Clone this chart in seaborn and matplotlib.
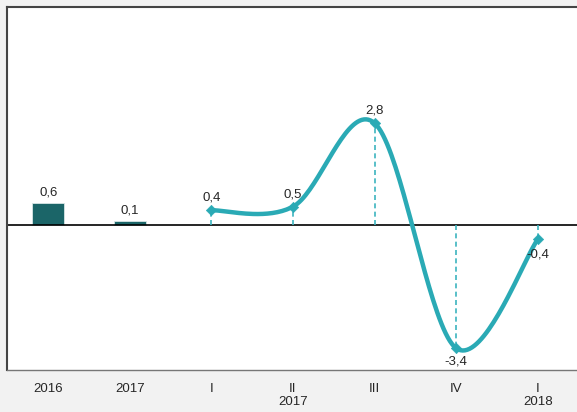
import matplotlib
matplotlib.use("Agg")
import matplotlib.pyplot as plt
import numpy as np
import pandas as pd
import seaborn as sns

# annual bars
years = ["2016", "2017"]
year_values = [0.6, 0.1]

# quarterly line
quarters = ["I", "II", "III", "IV", "I"]
quarter_years = ["", "2017", "", "", "2018"]
quarter_values = [0.4, 0.5, 2.8, -3.4, -0.4]

BAR_COLOR = "#1b6568"
LINE_COLOR = "#2aaab5"


def smooth_curve(xs, ys, n=40):
    """Excel-style smoothed line (Catmull-Rom as cubic Bezier)."""
    pts = np.column_stack([xs, ys]).astype(float)
    ext = np.vstack([pts[0], pts, pts[-1]])
    out = []
    t = np.linspace(0, 1, n)[:, None]
    for i in range(1, len(ext) - 2):
        p0, p1, p2, p3 = ext[i - 1], ext[i], ext[i + 1], ext[i + 2]
        b1 = p1 + (p2 - p0) / 6
        b2 = p2 - (p3 - p1) / 6
        seg = ((1 - t) ** 3) * p1 + 3 * ((1 - t) ** 2) * t * b1 + 3 * (1 - t) * t ** 2 * b2 + t ** 3 * p2
        out.append(seg if i == 1 else seg[1:])
    out = np.vstack(out)
    return out[:, 0], out[:, 1]


def fmt(v):
    return f"{v:.1f}".replace(".", ",")


sns.set_style("white")
plt.rcParams["font.family"] = ["Liberation Sans", "DejaVu Sans"]

fig = plt.figure(figsize=(5.77, 4.12), dpi=100, facecolor="#f2f2f2")
ax = fig.add_axes([7.4 / 577, 42 / 412, 571.2 / 577, 363 / 412])
ax.set_facecolor("white")

bar_x = np.arange(len(years))
q_x = np.arange(len(quarters)) + len(years)

bars = pd.DataFrame({"x": bar_x, "v": year_values})
sns.barplot(data=bars, x="x", y="v", native_scale=True, width=0.39,
            color=BAR_COLOR, saturation=1, edgecolor="#d8e6e6", linewidth=0.6, ax=ax)

ax.axhline(0, color="black", lw=1.2, zorder=1)

for x, v in zip(q_x, quarter_values):
    ax.plot([x, x], [0, v], color="#3cb4bf", lw=1.2, ls=(0, (3, 2)), zorder=2)

sx, sy = smooth_curve(q_x, quarter_values)
curve = pd.DataFrame({"x": sx, "y": sy})
sns.lineplot(data=curve, x="x", y="y", sort=False, color=LINE_COLOR, lw=3.2,
             solid_capstyle="round", ax=ax, zorder=3)
pts = pd.DataFrame({"x": q_x, "y": quarter_values})
sns.scatterplot(data=pts, x="x", y="y", marker="D", s=28, color=LINE_COLOR,
                edgecolor=LINE_COLOR, ax=ax, zorder=4)

# value labels
for x, v in zip(bar_x, year_values):
    ax.text(x, v + 0.12, fmt(v), ha="center", va="bottom", fontsize=9.5)
for x, v in zip(q_x, quarter_values):
    if v >= 0:
        ax.text(x, v + 0.18, fmt(v), ha="center", va="bottom", fontsize=9.5)
    elif v < -1:
        ax.text(x, v - 0.2, fmt(v), ha="center", va="top", fontsize=9.5)
    else:
        ax.text(x, v - 0.25, fmt(v), ha="center", va="top", fontsize=9.5)

ax.set_xlim(-0.5, 6.5)
ax.set_ylim(-4, 6)
ax.set_xticks(np.concatenate([bar_x, q_x]))
ax.set_xticklabels(years + [q if y == "" else f"{q}\n{y}" for q, y in zip(quarters, quarter_years)],
                   fontsize=9.5, va="top")
ax.tick_params(axis="x", length=0, pad=9)
ax.set_yticks([])
ax.set_xlabel("")
ax.set_ylabel("")

ax.spines["right"].set_visible(False)
for side in ["top", "left"]:
    ax.spines[side].set_color("#444444")
    ax.spines[side].set_linewidth(1.5)
ax.spines["bottom"].set_color("#777777")
ax.spines["bottom"].set_linewidth(1.0)

fig.savefig("out.png", dpi=100, facecolor=fig.get_facecolor())
